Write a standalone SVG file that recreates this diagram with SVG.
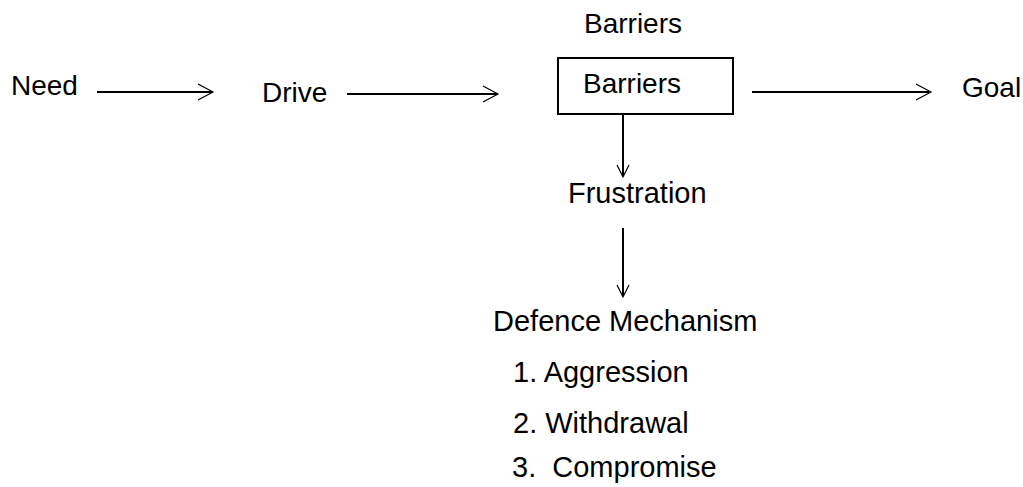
<svg xmlns="http://www.w3.org/2000/svg" width="1023" height="487" viewBox="0 0 1023 487">
  <style>
    text { font-family: "Liberation Sans", Arial, sans-serif; font-size: 28px; fill: #000; }
    .big { font-size: 29px; }
    .line { stroke: #000; stroke-width: 2; fill: none; }
    .head { stroke: #000; stroke-width: 1.2; fill: none; }
    .box { stroke: #000; stroke-width: 2; fill: #fff; }
  </style>
  <rect width="1023" height="487" fill="#fff"/>

  <g id="need"><text x="11" y="95">Need</text></g>
  <g id="drive"><text x="262" y="102">Drive</text></g>
  <g id="barriers-label"><text x="584" y="33">Barriers</text></g>
  <g id="barriers">
    <rect class="box" x="558" y="58" width="175" height="56"/>
    <text x="583" y="93">Barriers</text>
  </g>
  <g id="goal"><text x="962" y="97">Goal</text></g>
  <g id="frustration"><text class="big" x="568" y="203">Frustration</text></g>
  <g id="defence">
    <text class="big" x="493" y="331">Defence Mechanism</text>
    <text class="big" x="513" y="382">1. Aggression</text>
    <text class="big" x="513" y="433">2. Withdrawal</text>
    <text class="big" x="512" y="477" xml:space="preserve">3.  Compromise</text>
  </g>

  <g id="connectors">
    <line class="line" x1="97" y1="92" x2="212" y2="92"/>
    <polyline class="head" points="198,84 213,92 198,100"/>
    <line class="line" x1="347" y1="94" x2="497" y2="94"/>
    <polyline class="head" points="483,86 498,94 483,102"/>
    <line class="line" x1="752" y1="92" x2="929" y2="92"/>
    <polyline class="head" points="916,84 931,92 916,100"/>
    <line class="line" x1="623" y1="114" x2="623" y2="176"/>
    <polyline class="head" points="617,165 623,177 629,165"/>
    <line class="line" x1="623" y1="228" x2="623" y2="296"/>
    <polyline class="head" points="617,285 623,297 629,285"/>
  </g>
</svg>
